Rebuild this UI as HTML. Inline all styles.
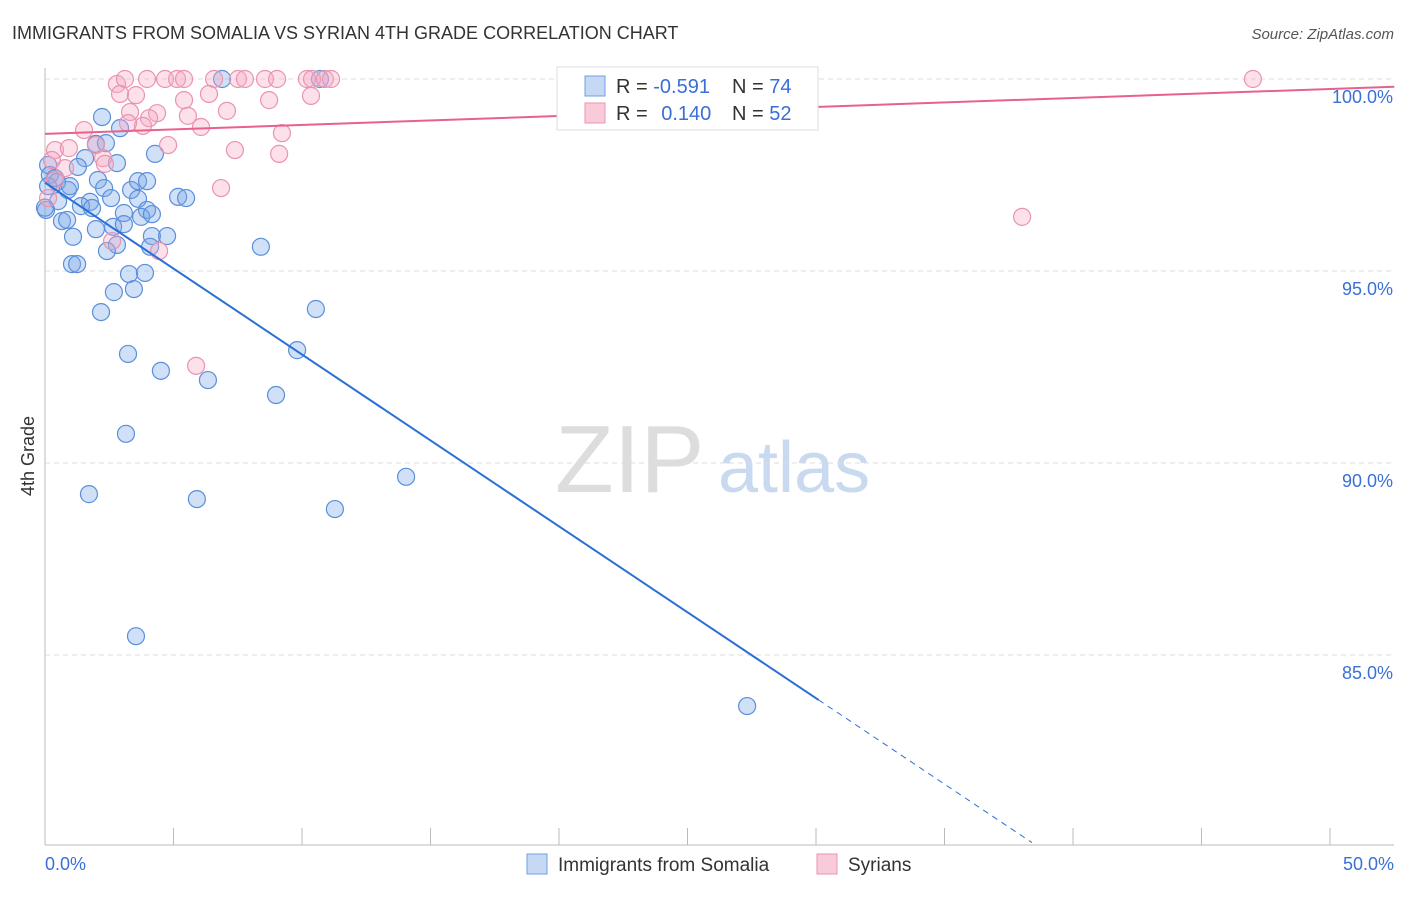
<!DOCTYPE html>
<html><head><meta charset="utf-8"><style>
body{margin:0;background:#fff;font-family:"Liberation Sans",sans-serif}
svg text{font-family:"Liberation Sans",sans-serif}
</style></head><body>
<svg id="c" width="1406" height="892" viewBox="0 0 1406 892">
<text x="12" y="39" font-size="18" fill="#333">IMMIGRANTS FROM SOMALIA VS SYRIAN 4TH GRADE CORRELATION CHART</text>
<text x="1394" y="39" font-size="15" fill="#555" font-style="italic" text-anchor="end">Source: ZipAtlas.com</text>
<text x="34" y="456" font-size="18" fill="#333" transform="rotate(-90 34 456)" text-anchor="middle">4th Grade</text>
<text x="555" y="492" font-size="96" fill="#ddd" font-family="Liberation Serif">ZIP</text>
<text x="718" y="492" font-size="72" fill="#c9d9f0">atlas</text>
<g id="grid"></g><g id="pts"></g><g id="lines"></g>
<g>
<rect x="557" y="67" width="261" height="63" fill="#fff" stroke="#ddd"/>
<rect x="585" y="76" width="20" height="20" fill="#c5d9f5" stroke="#6f9fe0"/>
<rect x="585" y="103" width="20" height="20" fill="#f9cbd9" stroke="#e995b2"/>
<text x="616" y="93" font-size="20" fill="#333">R = <tspan fill="#3a6fd8">-0.591</tspan><tspan x="732">N = </tspan><tspan fill="#3a6fd8">74</tspan></text>
<text x="616" y="120" font-size="20" fill="#333">R = <tspan fill="#3a6fd8" dx="8">0.140</tspan><tspan x="732">N = </tspan><tspan fill="#3a6fd8">52</tspan></text>
</g>
<g>
<rect x="527" y="854" width="20" height="20" fill="#c5d9f5" stroke="#6f9fe0"/>
<text x="558" y="871" font-size="19" fill="#333">Immigrants from Somalia</text>
<rect x="817" y="854" width="20" height="20" fill="#f9cbd9" stroke="#e995b2"/>
<text x="848" y="871" font-size="19" fill="#333">Syrians</text>
</g>
</svg>
<script>
const xTicks=[0,5,10,15,20,25,30,35,40,45,50];
const yTicks=[85,90,95,100];
const yTickLabels=["85.0%","90.0%","95.0%","100.0%"];
const somaliaX=[6.89,10.70,2.22,2.92,4.28,0.12,1.56,1.98,2.37,2.80,0.19,0.47,0.89,1.28,2.06,2.30,2.57,3.35,3.62,3.97,3.62,3.97,3.07,3.74,2.65,3.07,4.16,5.18,5.49,0.51,1.75,1.40,1.83,0.66,0.86,1.98,1.09,4.16,4.75,4.09,2.80,2.41,8.40,1.05,1.25,3.27,3.89,2.68,3.46,2.18,10.54,3.23,9.81,4.51,6.34,8.99,3.15,14.05,1.71,5.91,11.28,3.54,27.32,0.04,0.12,0.39,0.97,0.0];
const somaliaY=[100,100,99.01,98.72,98.05,97.76,97.94,98.31,98.33,97.81,97.50,97.32,97.11,97.71,97.37,97.16,96.90,97.11,97.34,97.34,96.88,96.59,96.51,96.41,96.15,96.22,96.48,96.93,96.90,96.82,96.80,96.69,96.64,96.30,96.33,96.09,95.89,95.91,95.91,95.63,95.68,95.52,95.63,95.18,95.18,94.92,94.95,94.45,94.53,93.93,94.01,92.84,92.94,92.40,92.16,91.77,90.76,89.64,89.19,89.06,88.80,85.49,83.67,96.59,97.21,97.42,97.21,96.65];
const syrX=[2.80,3.11,3.97,4.67,5.14,5.41,6.58,7.51,7.78,8.56,9.03,10.19,10.39,10.89,11.13,27.90,47.00,2.92,3.54,5.41,6.38,8.72,10.35,3.31,4.36,5.56,4.05,3.81,3.23,6.07,7.08,1.52,9.22,4.79,7.39,9.11,0.39,0.93,1.98,2.26,2.33,0.27,6.85,38.02,5.88,2.61,4.44,0.39,0.12,0.78];
const syrY=[99.87,100,100,100,100,100,100,100,100,100,100,100,100,100,100,100,100,99.61,99.58,99.45,99.61,99.45,99.56,99.14,99.11,99.04,98.98,98.78,98.85,98.75,99.17,98.67,98.59,98.28,98.15,98.05,98.15,98.20,98.28,97.94,97.79,97.89,97.16,96.41,92.53,95.78,95.52,97.37,96.90,97.68];
const somaliaTrend=[97.3,-0.4475];
const syrTrend=[98.57,0.0234];
const X=v=>45+v*25.7, Y=v=>79+(100-v)*38.4;
const NS="http://www.w3.org/2000/svg";
function mk(t,a,p){const e=document.createElementNS(NS,t);for(const k in a)e.setAttribute(k,a[k]);p.appendChild(e);return e;}
const g=document.getElementById('grid');
let ax=mk('line',{x1:45,y1:68,x2:45,y2:845,stroke:'#bbb'},g);


let bx=mk('line',{x1:45,y1:845,x2:1394,y2:845,stroke:'#bbb'},g);


yTicks.forEach((v,i)=>{
 const l=mk('line',{x1:45,x2:1394,y1:Y(v),y2:Y(v),stroke:'#ddd','stroke-dasharray':'5,4'},g);
 
 
 const t=mk('text',{x:1393,y:Y(v)+24,'text-anchor':'end','font-size':18,fill:'#3a6fd8'},g);
 t.textContent=yTickLabels[i];
 
 
});
xTicks.forEach(v=>{
 const l=mk('line',{x1:X(v),x2:X(v),y1:828,y2:845,stroke:'#bbb'},g);
 
 
});
[[0,'0.0%','start'],[50,'50.0%','end']].forEach(([v,s,a])=>{
 const t=mk('text',{x:X(v)+(a=='end'?64:0),y:870,'text-anchor':a,'font-size':18,fill:'#3a6fd8'},g);
 t.textContent=s;
 
 
});
const p=document.getElementById('pts');
somaliaX.forEach((v,i)=>{
 const c=mk('circle',{cx:X(v),cy:Y(somaliaY[i]),r:8.5,fill:'rgba(120,165,230,0.35)',stroke:'#5b8fdc','stroke-width':1.2},p);
 
 
});
syrX.forEach((v,i)=>{
 const c=mk('circle',{cx:X(v),cy:Y(syrY[i]),r:8.5,fill:'rgba(245,170,195,0.35)',stroke:'#ea93b0','stroke-width':1.2},p);
 
 
});
const L=document.getElementById('lines');
const f=(t,x)=>t[0]+t[1]*x;
let s1=mk('line',{x1:X(0),y1:Y(f(somaliaTrend,0)),x2:X(30.1),y2:Y(f(somaliaTrend,30.1)),stroke:'#2a6fd6','stroke-width':2},L);


let s2=mk('line',{x1:X(30.1),y1:Y(f(somaliaTrend,30.1)),x2:X(38.4),y2:Y(f(somaliaTrend,38.4)),stroke:'#2a6fd6','stroke-width':1,'stroke-dasharray':'6,5'},L);


let s3=mk('line',{x1:X(0),y1:Y(f(syrTrend,0)),x2:X(52.5),y2:Y(f(syrTrend,52.5)),stroke:'#e8618c','stroke-width':2},L);


</script>
</body></html>
